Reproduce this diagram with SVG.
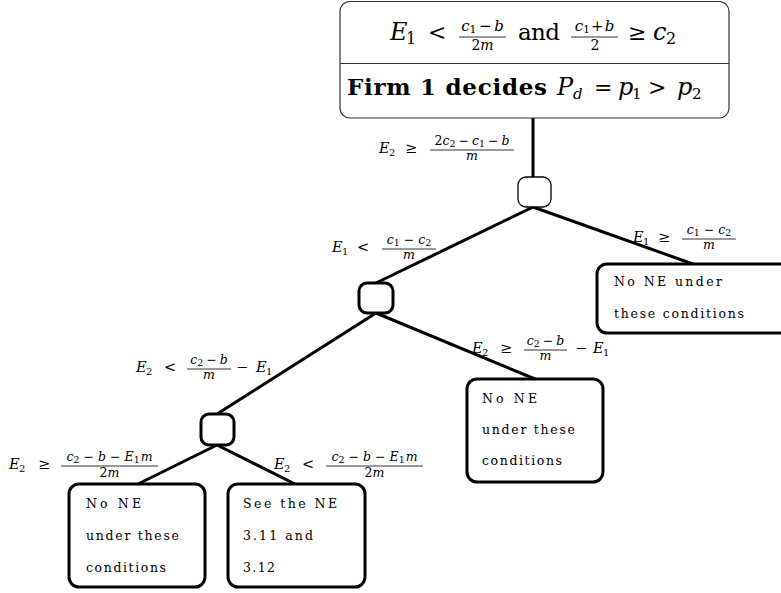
<svg xmlns="http://www.w3.org/2000/svg" width="781" height="593" viewBox="0 0 781 593">
  <style>
    text { font-family: "DejaVu Serif", "Liberation Serif", serif; fill: #000; }
    .i { font-style: italic; }
    .b { font-weight: bold; }
    .edge { stroke: #000; stroke-width: 3; fill: none; }
    .bar { stroke: #000; stroke-width: 0.8; }
    .node { fill: #fff; stroke: #000; stroke-width: 3; }
    .box { fill: #fff; stroke: #000; stroke-width: 3; }
    .lbl { font-size: 14.5px; }
    .sub { font-size: 10px; }
    .frac { font-size: 12.5px; }
    .fs { font-size: 9.5px; }
    .note { font-size: 12.5px; }
  </style>

  <!-- connectors -->
  <g id="connectors">
    <line class="edge" x1="533" y1="118" x2="533" y2="177"/>
    <line class="edge" x1="533" y1="207" x2="376" y2="283"/>
    <line class="edge" x1="533" y1="207" x2="693" y2="264"/>
    <line class="edge" x1="376" y1="313" x2="217" y2="414"/>
    <line class="edge" x1="376" y1="313" x2="535" y2="379"/>
    <line class="edge" x1="217" y1="445" x2="138" y2="484"/>
    <line class="edge" x1="217" y1="445" x2="295" y2="484"/>
  </g>

  <!-- root: condition and decision -->
  <g id="root">
    <rect x="340" y="1.5" width="389" height="116.5" rx="10" fill="#fff" stroke="#333" stroke-width="1.2"/>
    <line x1="340" y1="63.5" x2="729" y2="63.5" stroke="#333" stroke-width="1.2"/>
    <text class="i" x="390" y="40" font-size="24">E</text>
    <text x="406" y="44" font-size="16">1</text>
    <text x="428" y="40" font-size="22">&lt;</text>
    <text x="482.5" y="31" font-size="15" text-anchor="middle"><tspan class="i">c</tspan><tspan font-size="11" dy="2">1</tspan><tspan dy="-2" dx="2.5">−</tspan><tspan class="i" dx="2.5">b</tspan></text>
    <line class="bar" x1="459" y1="37" x2="506" y2="37"/>
    <text x="482.5" y="50" font-size="14" text-anchor="middle">2<tspan class="i">m</tspan></text>
    <text x="518" y="40" font-size="23" textLength="42">and</text>
    <text x="594.5" y="31" font-size="15" text-anchor="middle"><tspan class="i">c</tspan><tspan font-size="11" dy="2">1</tspan><tspan dy="-2" dx="1">+</tspan><tspan class="i" dx="1">b</tspan></text>
    <line class="bar" x1="571" y1="37" x2="618" y2="37"/>
    <text x="595" y="50" font-size="14" text-anchor="middle">2</text>
    <text x="628" y="40" font-size="22">≥</text>
    <text class="i" x="653" y="40" font-size="24">c</text>
    <text x="666" y="44" font-size="16">2</text>

    <text class="b" x="347" y="95" font-size="23" textLength="200">Firm 1 decides</text>
    <text class="i" x="557" y="95" font-size="24">P</text>
    <text class="i" x="573" y="99" font-size="15">d</text>
    <text x="594" y="95" font-size="22">=</text>
    <text class="i" x="618" y="95" font-size="24">p</text>
    <text x="632" y="99" font-size="15">1</text>
    <text x="648" y="95" font-size="22">&gt;</text>
    <text class="i" x="677" y="95" font-size="24">p</text>
    <text x="692" y="99" font-size="15">2</text>
  </g>

  <!-- decision points -->
  <g id="n1"><rect x="518" y="177" width="33" height="30" rx="8" fill="#fff" stroke="#000" stroke-width="1.3"/></g>
  <g id="n2"><rect class="node" x="359" y="283" width="34" height="30" rx="8"/></g>
  <g id="n3"><rect class="node" x="201" y="414" width="33" height="31" rx="8"/></g>

  <!-- outcomes -->
  <g id="out-right">
    <rect class="box" x="597" y="264" width="200" height="69" rx="10"/>
    <text class="note" x="614" y="286" textLength="108">No NE under</text>
    <text class="note" x="614" y="318" textLength="130">these conditions</text>
  </g>
  <g id="out-mid">
    <rect class="box" x="467" y="379" width="136" height="103" rx="10"/>
    <text class="note" x="482" y="403" textLength="55">No NE</text>
    <text class="note" x="482" y="434" textLength="93">under these</text>
    <text class="note" x="482" y="465" textLength="80">conditions</text>
  </g>
  <g id="out-left">
    <rect class="box" x="69" y="484" width="136" height="103" rx="10"/>
    <text class="note" x="86" y="508" textLength="55">No NE</text>
    <text class="note" x="86" y="540" textLength="93">under these</text>
    <text class="note" x="86" y="572" textLength="80">conditions</text>
  </g>
  <g id="out-see">
    <rect class="box" x="228" y="484" width="137" height="103" rx="10"/>
    <text class="note" x="243" y="508" textLength="94">See the NE</text>
    <text class="note" x="243" y="540" textLength="70">3.11 and</text>
    <text class="note" x="243" y="572" textLength="32">3.12</text>
  </g>

  <!-- edge labels -->
  <g id="labels">
    <!-- E2 >= (2c2 - c1 - b)/m -->
    <text class="lbl i" x="379" y="153">E</text><text class="sub" x="389" y="156">2</text>
    <text class="lbl" x="405" y="153">≥</text>
    <text class="frac" x="472" y="145" text-anchor="middle">2<tspan class="i">c</tspan><tspan class="fs" dy="2">2</tspan><tspan dy="-2" dx="3">−</tspan><tspan class="i" dx="3">c</tspan><tspan class="fs" dy="2">1</tspan><tspan dy="-2" dx="3">−</tspan><tspan class="i" dx="3">b</tspan></text>
    <line class="bar" x1="430" y1="150" x2="514" y2="150"/>
    <text class="frac i" x="472" y="160" text-anchor="middle">m</text>

    <!-- E1 < (c1 - c2)/m -->
    <text class="lbl i" x="332" y="252">E</text><text class="sub" x="342" y="255">1</text>
    <text class="lbl" x="357" y="252">&lt;</text>
    <text class="frac" x="409" y="244" text-anchor="middle"><tspan class="i">c</tspan><tspan class="fs" dy="2">1</tspan><tspan dy="-2" dx="4">−</tspan><tspan class="i" dx="4">c</tspan><tspan class="fs" dy="2">2</tspan></text>
    <line class="bar" x1="382" y1="249" x2="436" y2="249"/>
    <text class="frac i" x="409" y="259" text-anchor="middle">m</text>

    <!-- E1 >= (c1 - c2)/m -->
    <text class="lbl i" x="633" y="242">E</text><text class="sub" x="643" y="245">1</text>
    <text class="lbl" x="658" y="242">≥</text>
    <text class="frac" x="709" y="234" text-anchor="middle"><tspan class="i">c</tspan><tspan class="fs" dy="2">1</tspan><tspan dy="-2" dx="4">−</tspan><tspan class="i" dx="4">c</tspan><tspan class="fs" dy="2">2</tspan></text>
    <line class="bar" x1="682" y1="239" x2="736" y2="239"/>
    <text class="frac i" x="709" y="249" text-anchor="middle">m</text>

    <!-- E2 < (c2 - b)/m - E1 -->
    <text class="lbl i" x="136" y="372">E</text><text class="sub" x="146" y="375">2</text>
    <text class="lbl" x="164" y="372">&lt;</text>
    <text class="frac" x="209" y="364" text-anchor="middle"><tspan class="i">c</tspan><tspan class="fs" dy="2">2</tspan><tspan dy="-2" dx="3">−</tspan><tspan class="i" dx="3">b</tspan></text>
    <line class="bar" x1="187" y1="369" x2="231" y2="369"/>
    <text class="frac i" x="209" y="379" text-anchor="middle">m</text>
    <text class="lbl" x="236" y="372">−</text>
    <text class="lbl i" x="256" y="372">E</text><text class="sub" x="266" y="375">1</text>

    <!-- E2 >= (c2 - b)/m - E1 -->
    <text class="lbl i" x="472" y="353">E</text><text class="sub" x="482" y="356">2</text>
    <text class="lbl" x="500" y="353">≥</text>
    <text class="frac" x="545.5" y="345" text-anchor="middle"><tspan class="i">c</tspan><tspan class="fs" dy="2">2</tspan><tspan dy="-2" dx="3">−</tspan><tspan class="i" dx="3">b</tspan></text>
    <line class="bar" x1="524" y1="350" x2="567" y2="350"/>
    <text class="frac i" x="545.5" y="360" text-anchor="middle">m</text>
    <text class="lbl" x="575" y="353">−</text>
    <text class="lbl i" x="593" y="353">E</text><text class="sub" x="603" y="356">1</text>

    <!-- E2 >= (c2 - b - E1 m)/(2m) -->
    <text class="lbl i" x="9" y="469">E</text><text class="sub" x="19" y="472">2</text>
    <text class="lbl" x="38" y="469">≥</text>
    <text class="frac" x="109.5" y="461" text-anchor="middle"><tspan class="i">c</tspan><tspan class="fs" dy="2">2</tspan><tspan dy="-2" dx="4">−</tspan><tspan class="i" dx="4">b</tspan><tspan dx="4">−</tspan><tspan class="i" dx="4">E</tspan><tspan class="fs" dy="2">1</tspan><tspan class="i" dy="-2" dx="1">m</tspan></text>
    <line class="bar" x1="61" y1="466" x2="158" y2="466"/>
    <text class="frac" x="109.5" y="477" text-anchor="middle">2<tspan class="i">m</tspan></text>

    <!-- E2 < (c2 - b - E1 m)/(2m) -->
    <text class="lbl i" x="274" y="469">E</text><text class="sub" x="284" y="472">2</text>
    <text class="lbl" x="302" y="469">&lt;</text>
    <text class="frac" x="374.5" y="461" text-anchor="middle"><tspan class="i">c</tspan><tspan class="fs" dy="2">2</tspan><tspan dy="-2" dx="4">−</tspan><tspan class="i" dx="4">b</tspan><tspan dx="4">−</tspan><tspan class="i" dx="4">E</tspan><tspan class="fs" dy="2">1</tspan><tspan class="i" dy="-2" dx="1">m</tspan></text>
    <line class="bar" x1="326" y1="466" x2="423" y2="466"/>
    <text class="frac" x="374.5" y="477" text-anchor="middle">2<tspan class="i">m</tspan></text>
  </g>
</svg>
